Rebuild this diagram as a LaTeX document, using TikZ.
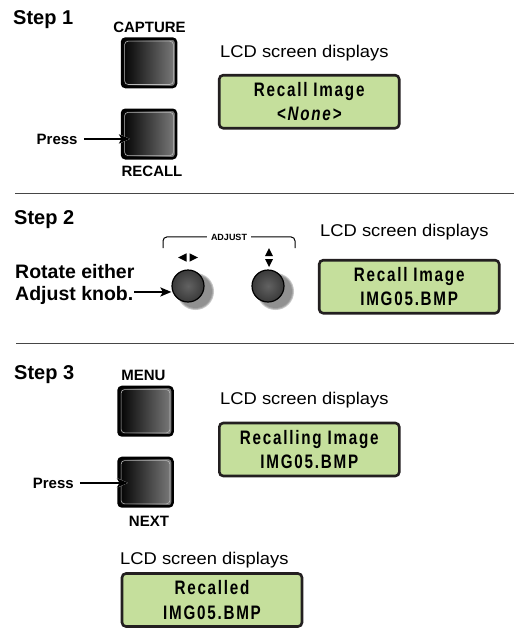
\documentclass[tikz,border=0pt]{standalone}
\usepackage{fontspec}
\setmainfont{Liberation Sans}
\newfontfamily\capfont[FakeStretch=1.08]{Liberation Sans}
\newfontfamily\lcdfont[FakeStretch=0.78,LetterSpace=9]{Liberation Sans}
\usetikzlibrary{arrows.meta}

\definecolor{lcdgreen}{RGB}{197,223,156}
\definecolor{lcdedge}{RGB}{35,31,32}
\definecolor{btnlight}{RGB}{125,125,125}
\definecolor{rulegray}{RGB}{70,70,70}

\tikzset{
  steplabel/.style={font=\fontsize{20}{24}\selectfont\bfseries, anchor=base west, inner sep=0},
  keylabel/.style={font=\fontsize{15}{18}\selectfont\bfseries, anchor=base, inner sep=0},
  bigkeylabel/.style={font=\fontsize{19.5}{22}\selectfont\bfseries, anchor=base west, inner sep=0},
  lcdcaption/.style={font=\capfont\fontsize{17}{20}\selectfont, anchor=base west, inner sep=0},
  lcd/.style={draw=lcdedge, line width=2.6, fill=lcdgreen, rounded corners=4,
    minimum width=180, minimum height=53, align=center, inner sep=0,
    font=\lcdfont\fontsize{19.5}{24.5}\selectfont\bfseries},
  button/.style={draw=black, line width=2.5, rounded corners=3.5,
    minimum width=54, minimum height=48.5, inner sep=0,
    left color=black, right color=btnlight,
    path picture={\draw[gray!55, line width=0.6]
      ([shift={(2.6,2.6)}]path picture bounding box.north west) rectangle
      ([shift={(-2.6,-2.6)}]path picture bounding box.south east);}},
  knob/.style={circle, draw=black, line width=1.2, minimum size=32, inner sep=0,
    inner color={rgb,255:red,98;green,98;blue,98}, outer color={rgb,255:red,58;green,58;blue,58}},
  knobshadow/.style={fill=black!55, opacity=0.4},
  pointer/.style={line width=2, -{Stealth[length=11pt,width=9pt,inset=2.5pt]},
    preaction={draw=white, line width=3.8, -{Stealth[length=13pt,width=11pt,inset=2.5pt]}}},
  divider/.style={draw=rulegray, line width=1.3},
  bracket/.style={line width=1, rounded corners=4},
}

\begin{document}
\begin{tikzpicture}[x=1pt, y=-1pt]
\useasboundingbox (0,0) rectangle (514,629);

% ---------- Step 1 ----------
\node[steplabel] (step1) at (13,24) {Step 1};
\node[keylabel] (capturelbl) at (149.5,32.3) {CAPTURE};
\node[button] (capture) at (149,62.8) {};
\node[button] (recall) at (149,134) {};
\node[keylabel] (recalllbl) at (152,176.7) {RECALL};
\node[keylabel, anchor=base west] (press1) at (36.5,144) {Press};
\coordinate (tip1) at (130,0);
\draw[pointer] ([xshift=6pt]press1.east) -- (press1.east -| tip1);

\node[lcdcaption] (cap1) at (220,57) {LCD screen displays};
\node[lcd] (lcd1) at (309.2,101.7) {Recall Image\\\itshape <None>};

\coordinate (rule1a) at (15,193.3);
\coordinate (rule1b) at (514,193.3);
\draw[divider] (rule1a) -- (rule1b);

% ---------- Step 2 ----------
\node[steplabel] (step2) at (14,224) {Step 2};
\node[font=\fontsize{9}{10}\selectfont\bfseries, anchor=base, inner sep=0] (adj) at (229,240) {ADJUST};
\draw[bracket] ([xshift=-4pt]adj.west) -| (163,248);
\draw[bracket] ([xshift=4pt]adj.east) -| (295,248);

% direction marks above the knobs
\fill (178,257.5) -- (186.5,253.3) -- (186.5,261.7) -- cycle;
\fill (189.5,253.3) -- (198,257.5) -- (189.5,261.7) -- cycle;
\fill (265,256.2) -- (269,248.2) -- (273,256.2) -- cycle;
\fill (265,259) -- (273,259) -- (269,267) -- cycle;

% knobs with their soft drop shadows
\coordinate (knobLc) at (188,286);
\coordinate (knobRc) at (268,286);
\foreach \c in {knobLc,knobRc}{
  \foreach \r in {18.5,17.5,16.5}
    \fill[knobshadow] ([shift={(7.5,5.5)}]\c) circle (\r);
}
\node[knob] (knobL) at (knobLc) {};
\node[knob] (knobR) at (knobRc) {};

\node[bigkeylabel] (rot1) at (15,278.5) {Rotate either};
\node[bigkeylabel] (rot2) at (15,300) {Adjust knob.};
\draw[pointer] ([shift={(1,-3)}]rot2.east) -- ([yshift=3pt]rot2.east -| knobL.west);

\node[lcdcaption] (cap2) at (320,236) {LCD screen displays};
\node[lcd] (lcd2) at (409.2,286.7) {Recall Image\\IMG05.BMP};

\coordinate (rule2a) at (16,343.3);
\coordinate (rule2b) at (514,343.3);
\draw[divider] (rule2a) -- (rule2b);

% ---------- Step 3 ----------
\node[steplabel] (step3) at (14,379) {Step 3};
\node[keylabel] (menulbl) at (143.5,380) {MENU};
\node[button] (menu) at (145.5,411.2) {};
\node[button] (next) at (145.5,482.2) {};
\node[keylabel] (nextlbl) at (149,526.7) {NEXT};
\node[keylabel, anchor=base west] (press3) at (32.7,488) {Press};
\coordinate (tip3) at (128,0);
\draw[pointer] ([xshift=6pt]press3.east) -- (press3.east -| tip3);

\node[lcdcaption] (cap3) at (220,404) {LCD screen displays};
\node[lcd] (lcd3) at (309.3,449.5) {Recalling Image\\IMG05.BMP};

\node[lcdcaption] (cap4) at (120,564) {LCD screen displays};
\node[lcd] (lcd4) at (212,600) {Recalled\\IMG05.BMP};
\end{tikzpicture}
\end{document}
